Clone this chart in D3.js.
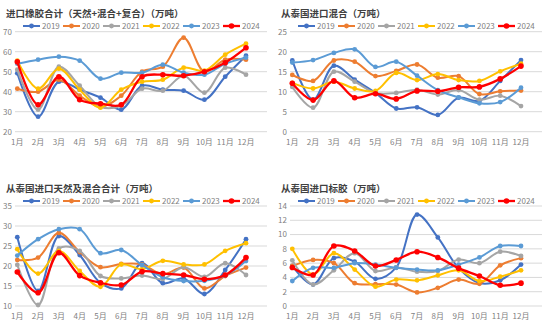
<!DOCTYPE html>
<html>
<head>
<meta charset="utf-8">
<script src="https://cdn.jsdelivr.net/npm/d3@7"></script>
<style>
  body { margin: 0; background: #fff; }
  text { font-family: "Noto Sans CJK SC", "Noto Sans", sans-serif; }
</style>
</head>
<body>
<svg id="chart" width="550" height="325"></svg>
<script>
var months = ["1月","2月","3月","4月","5月","6月","7月","8月","9月","10月","11月","12月"];
var years = ["2019","2020","2021","2022","2023","2024"];
var colors = ["#4472C4","#ED7D31","#A5A5A5","#FFC000","#5B9BD5","#FF0000"];

// 进口橡胶合计（天然+混合+复合）
var totalImport = [
  [49.2,27.5,45,41,37,31,43,41,40.5,36,47.5,58],
  [41.5,40,46,38,32.5,38,50,52.5,67,50,56,56],
  [51,31,52.5,43,32.5,33,41.5,40.5,48,39.5,52,48.5],
  [55.5,41.5,51.5,41,32,41,45,46,52,50.5,58.5,64],
  [54,56,57.5,55.5,46.5,49.5,49.5,53.5,49.5,48.5,54,57],
  [55,33.5,47.5,36,34,33.5,47.5,48.5,48,50,54.5,62]
];
// 从泰国进口混合
var thaiMixed = [
  [17.8,8,16.5,13,9.7,5.8,6.1,4.2,8.5,7.7,12.7,17.9],
  [14.2,12.7,17.8,17.5,13.9,15.2,16.8,13.5,13.9,9.4,10.1,10.3],
  [11.2,6,15,12.5,9.7,9.7,10.5,9.3,10.4,8,9,6.4],
  [12.2,10.8,12.5,10.8,10.2,14.7,12.9,14.4,12.9,12.7,15.1,17],
  [17.3,17.9,19.7,20.6,16.2,17.5,14,10.4,8.6,7.1,7.4,11],
  [12.1,7.9,12.7,8.5,9.5,8.2,10.2,10.1,11.1,11.2,13.2,16.4]
];
// 从泰国进口天然及混合合计
var thaiTotal = [
  [27.2,13.75,27.5,22.75,15.8,14.4,20.7,15.7,16.9,13,19,26.7],
  [21.5,22.1,28.3,23.5,19.7,20.5,20.4,17.9,19.6,14.4,17.5,19.6],
  [20.3,10.25,24.4,23.8,17.5,16.9,17.6,16.75,19.7,17.3,20.7,17.75],
  [24.2,18.1,23.75,18.75,14.8,20.4,19.2,21.3,20.4,20.4,23.8,25.7],
  [22.6,26.7,29.2,29.2,23.2,24,20.25,17.2,16.25,16.3,17.6,21.25],
  [18.5,13.3,23.3,17.6,15.8,15.25,18.6,18.1,17.75,16.7,17.75,22.1]
];
// 从泰国进口标胶
var thaiTSR = [
  [5.6,3,6.7,6.2,3.8,5.4,12.8,9.6,5.3,3.2,3.6,5.8],
  [5.6,6.45,6,3.2,3.05,3,1.9,2.55,3.7,3.1,5.7,6.7],
  [6.4,3,5,7.4,4.9,5.4,4.8,4.9,6.5,6,7.6,7],
  [8,4.4,7.4,5.1,2.7,3.7,3.6,4.3,5,3.5,4.1,5],
  [3.5,5.35,5.35,6,5.8,5.35,5.1,5,5.8,6.8,8.4,8.4],
  [5.4,4.35,8.4,7.7,5.6,6.45,7.6,6.8,5.3,4.2,2.9,3.2]
];

var svg = d3.select("#chart");

function drawPanel(ox, oy, title, series, yDomain, yTicks, plotTop, plotBottom, titleY, legendY, labelY) {
  var g = svg.append("g").attr("transform", "translate(" + ox + "," + oy + ")");

  var x = d3.scalePoint().domain(months).range([17.3, 246]);
  var y = d3.scaleLinear().domain(yDomain).range([plotBottom, plotTop]);

  // gridlines
  g.selectAll("line.grid")
    .data(yTicks)
    .enter().append("line")
    .attr("class", "grid")
    .attr("x1", 15).attr("x2", 267)
    .attr("y1", function(d) { return y(d); })
    .attr("y2", function(d) { return y(d); })
    .attr("stroke", "#D9D9D9")
    .attr("stroke-width", 1);

  // y labels
  g.selectAll("text.ylab")
    .data(yTicks)
    .enter().append("text")
    .attr("class", "ylab")
    .attr("x", 12)
    .attr("y", function(d) { return y(d); })
    .attr("dy", "0.35em")
    .attr("text-anchor", "end")
    .attr("font-size", 8)
    .attr("fill", "#7F7F7F")
    .text(function(d) { return d; });

  // x labels
  g.selectAll("text.xlab")
    .data(months)
    .enter().append("text")
    .attr("class", "xlab")
    .attr("x", function(d) { return x(d); })
    .attr("y", labelY)
    .attr("dy", "0.35em")
    .attr("text-anchor", "middle")
    .attr("font-size", 8)
    .attr("fill", "#7F7F7F")
    .text(function(d) { return d; });

  // title
  g.append("text")
    .attr("x", 6)
    .attr("y", titleY)
    .attr("dy", "0.35em")
    .attr("font-size", 9.5)
    .attr("font-weight", "bold")
    .attr("fill", "#404040")
    .text(title);

  var line = d3.line()
    .x(function(d, i) { return x(months[i]); })
    .y(function(d) { return y(d); })
    .curve(d3.curveCatmullRom.alpha(0.5));

  series.forEach(function(vals, s) {
    var w = s == 5 ? 2.3 : 2;
    g.append("path")
      .attr("d", line(vals))
      .attr("fill", "none")
      .attr("stroke", colors[s])
      .attr("stroke-width", w);
    g.selectAll("circle.s" + s)
      .data(vals)
      .enter().append("circle")
      .attr("class", "s" + s)
      .attr("cx", function(d, i) { return x(months[i]); })
      .attr("cy", function(d) { return y(d); })
      .attr("r", s == 5 ? 2.8 : 2.4)
      .attr("fill", colors[s]);
  });

  // legend
  var leg = g.selectAll("g.leg")
    .data(years)
    .enter().append("g")
    .attr("class", "leg")
    .attr("transform", function(d, i) { return "translate(" + (23 + i * 40) + "," + legendY + ")"; });
  leg.append("line")
    .attr("x1", 0).attr("x2", 17)
    .attr("stroke", function(d, i) { return colors[i]; })
    .attr("stroke-width", function(d, i) { return i == 5 ? 2.3 : 2; });
  leg.append("circle")
    .attr("cx", 8.5).attr("r", function(d, i) { return i == 5 ? 2.8 : 2.4; })
    .attr("fill", function(d, i) { return colors[i]; });
  leg.append("text")
    .attr("x", 19)
    .attr("dy", "0.35em")
    .attr("font-size", 8)
    .attr("fill", "#7F7F7F")
    .text(function(d) { return d; });
}

drawPanel(0, 0, "进口橡胶合计（天然+混合+复合）（万吨）", totalImport, [20, 70], [20,30,40,50,60,70], 31.7, 131.7, 14, 26, 142);
drawPanel(275, 0, "从泰国进口混合（万吨）", thaiMixed, [0, 25], [0,5,10,15,20,25], 31.7, 131.7, 14, 26, 142);
drawPanel(0, 160, "从泰国进口天然及混合合计（万吨）", thaiTotal, [10, 35], [10,15,20,25,30,35], 46, 146, 29, 41, 156);
drawPanel(275, 160, "从泰国进口标胶（万吨）", thaiTSR, [0, 14], [0,2,4,6,8,10,12,14], 46, 146, 29, 41, 156);
</script>
</body>
</html>
